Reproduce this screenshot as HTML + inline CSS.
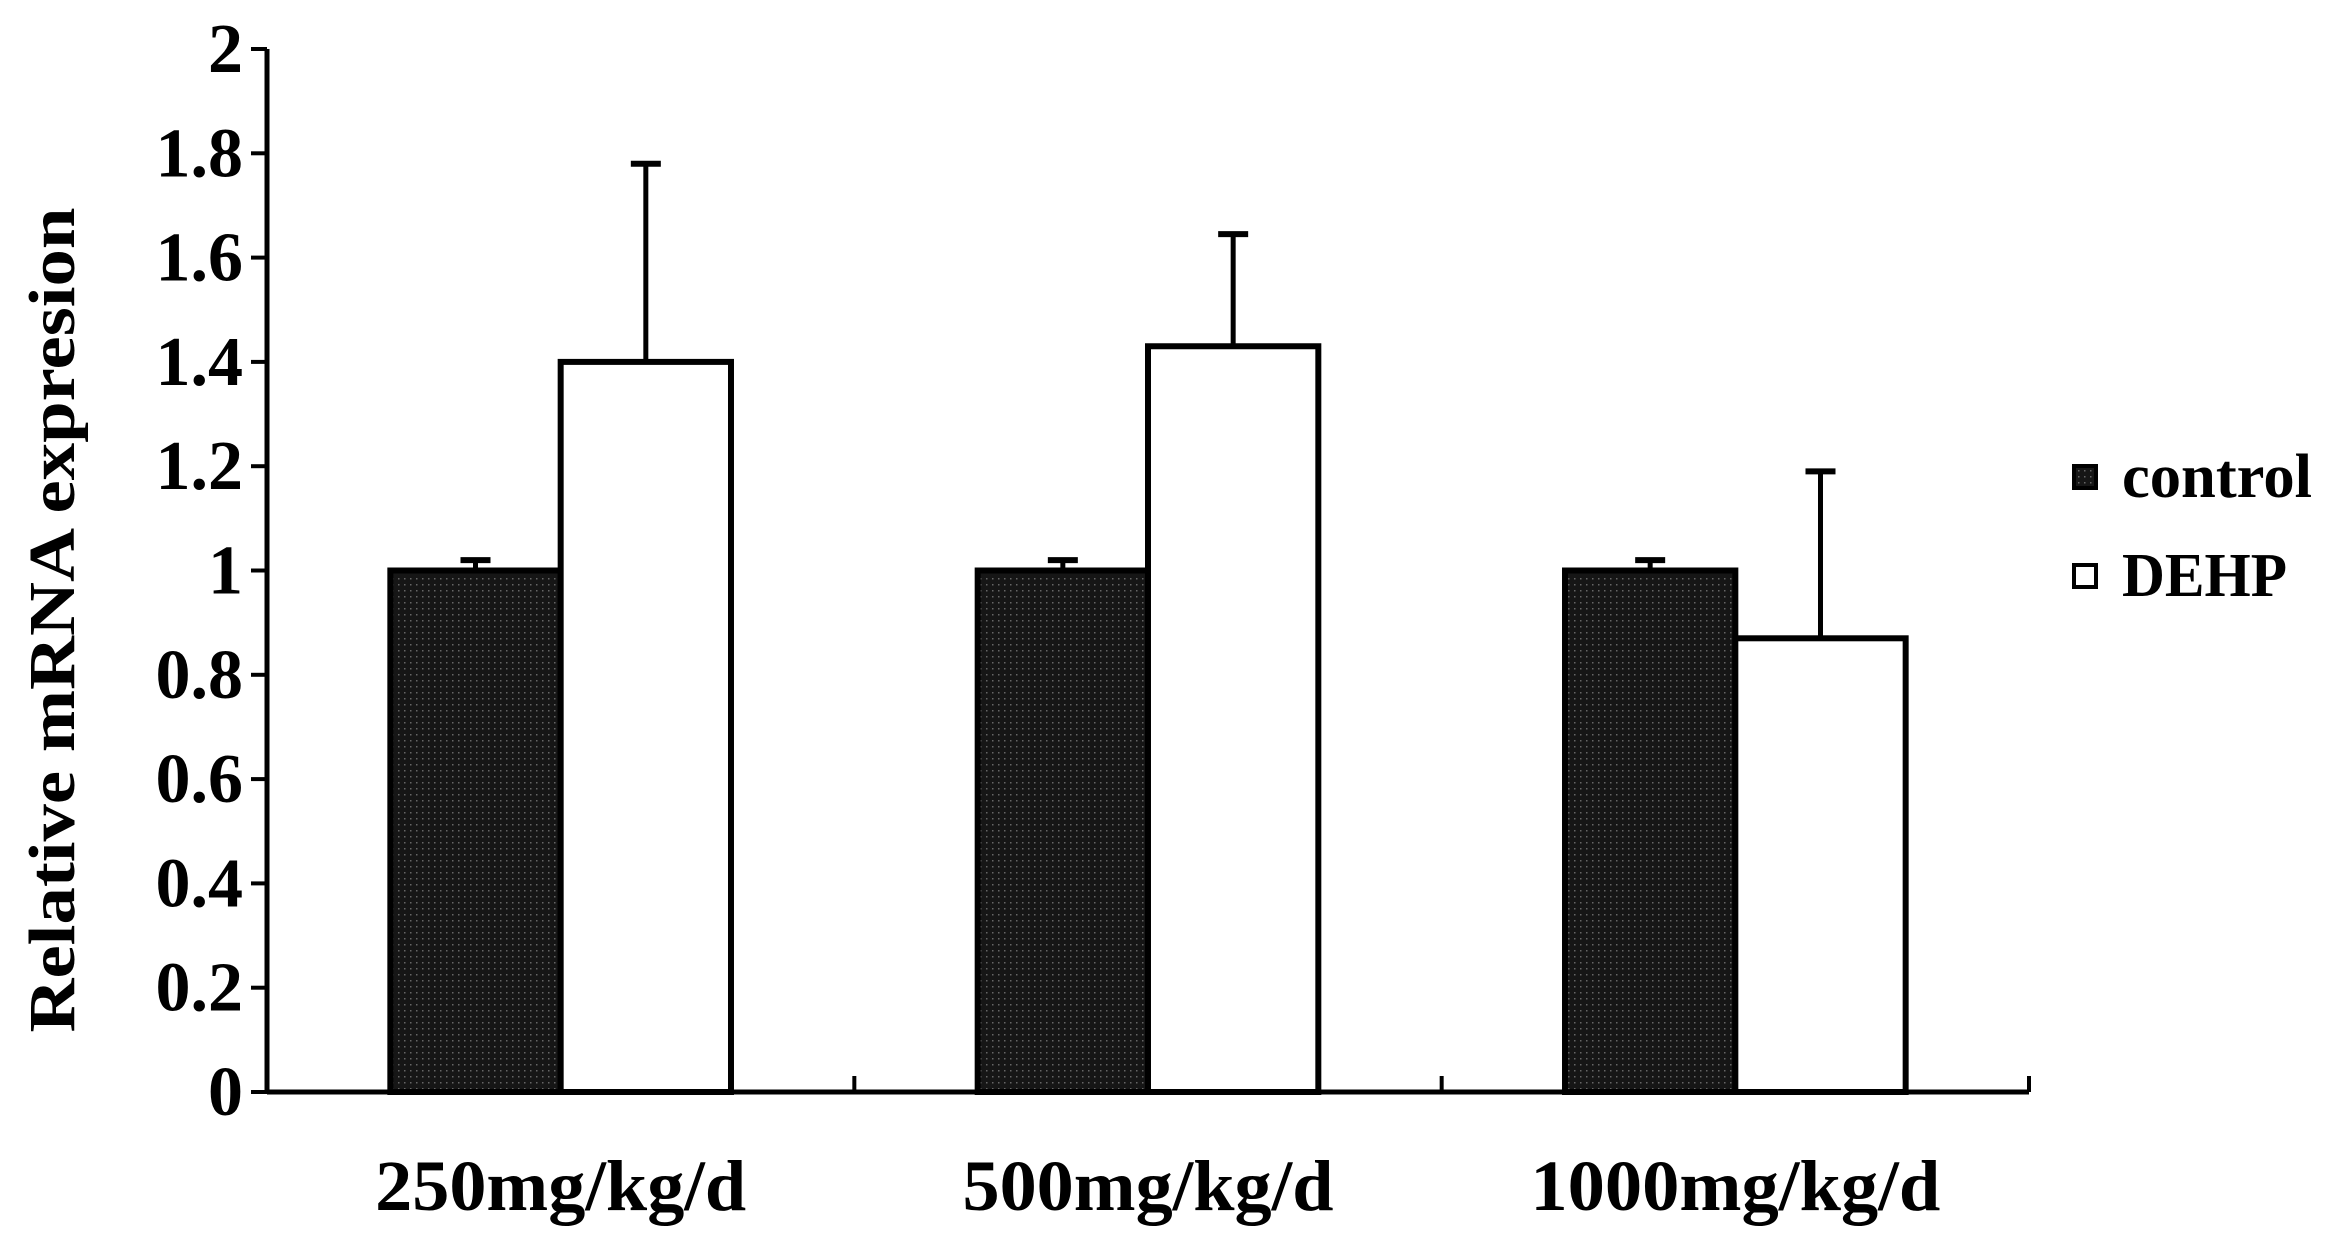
<!DOCTYPE html>
<html><head><meta charset="utf-8"><style>
html,body{margin:0;padding:0;background:#fff;}
svg{display:block;font-family:"Liberation Serif",serif;font-weight:bold;}
</style></head><body>
<svg id="chart" width="2327" height="1234" viewBox="0 0 2327 1234" xmlns="http://www.w3.org/2000/svg">
<defs>
<pattern id="dots" width="6" height="6" patternUnits="userSpaceOnUse">
<rect width="6" height="6" fill="#161616"/><rect x="2" y="2" width="1.5" height="1.5" fill="#666"/>
</pattern>
</defs>
<g id="plot"></g>
<text transform="translate(74,620) rotate(-90)" text-anchor="middle" font-size="66" textLength="825" lengthAdjust="spacingAndGlyphs">Relative mRNA expresion</text>
<g>
<rect x="2074" y="466" width="22" height="22" fill="url(#dots)" stroke="#000" stroke-width="4"/>
<text x="2122" y="497" font-size="62" textLength="190" lengthAdjust="spacingAndGlyphs">control</text>
<rect x="2074" y="565" width="22" height="22" fill="#fff" stroke="#000" stroke-width="4"/>
<text x="2122" y="596" font-size="62" textLength="165" lengthAdjust="spacingAndGlyphs">DEHP</text>
</g>
</svg>
<script>
const categories = ["250mg/kg/d","500mg/kg/d","1000mg/kg/d"];
const controlValues = [1.0, 1.0, 1.0];
const controlErrors = [0.02, 0.02, 0.02];
const dehpValues = [1.40, 1.43, 0.87];
const dehpErrors = [0.38, 0.215, 0.32];
const yTicks = [0, 0.2, 0.4, 0.6, 0.8, 1, 1.2, 1.4, 1.6, 1.8, 2];

const X0 = 267, X1 = 2029, Y0 = 1092, Y1 = 49, YMAX = 2;
const ns = "http://www.w3.org/2000/svg";
const g = document.getElementById('plot');
const catW = (X1 - X0) / categories.length;
const y = v => Y0 - (v / YMAX) * (Y0 - Y1);
const xc = i => X0 + catW * (i + 0.5);
const barW = catW * 0.29;
function mk(tag, attrs){ const e = document.createElementNS(ns, tag); for (const k in attrs) e.setAttribute(k, attrs[k]); g.appendChild(e); return e; }

function drawBar(i, v, err, isCtrl) {
  const x = isCtrl ? xc(i) - barW : xc(i);
  const cx = x + barW / 2;
  const eb = mk('line', {x1: cx, x2: cx, y1: y(v), y2: y(v + err), stroke: '#000', 'stroke-width': 5});
  
  
  const cap = mk('line', {x1: cx - 15, x2: cx + 15, y1: y(v + err), y2: y(v + err), stroke: '#000', 'stroke-width': 6});
  
  
  const r = mk('rect', {x: x, y: y(v), width: barW, height: Y0 - y(v), fill: isCtrl ? 'url(#dots)' : '#fff', stroke: '#000', 'stroke-width': 6});
  
  
}
categories.forEach((c, i) => {
  drawBar(i, controlValues[i], controlErrors[i], true);
  drawBar(i, dehpValues[i], dehpErrors[i], false);
  const t = mk('text', {x: xc(i), y: 1210, 'text-anchor': 'middle', 'font-size': 72, textLength: c.length > 10 ? 410 : 371, lengthAdjust: 'spacingAndGlyphs'});
  t.textContent = c;
  
  
});
yTicks.forEach(v => {
  const tk = mk('line', {x1: X0 - 16, x2: X0, y1: y(v), y2: y(v), stroke: '#000', 'stroke-width': 4});
  
  
  const t = mk('text', {x: 243, y: y(v) + 23, 'text-anchor': 'end', 'font-size': 70});
  t.textContent = String(v);
  
  
});
for (let i = 1; i <= categories.length; i++) {
  const tk = mk('line', {x1: X0 + catW * i, x2: X0 + catW * i, y1: Y0, y2: Y0 - 16, stroke: '#000', 'stroke-width': 4});
  
  
}
const ya = mk('line', {x1: X0, x2: X0, y1: Y1, y2: Y0, stroke: '#000', 'stroke-width': 5});


const xa = mk('line', {x1: X0, x2: X1, y1: Y0, y2: Y0, stroke: '#000', 'stroke-width': 5});


</script>
</body></html>
